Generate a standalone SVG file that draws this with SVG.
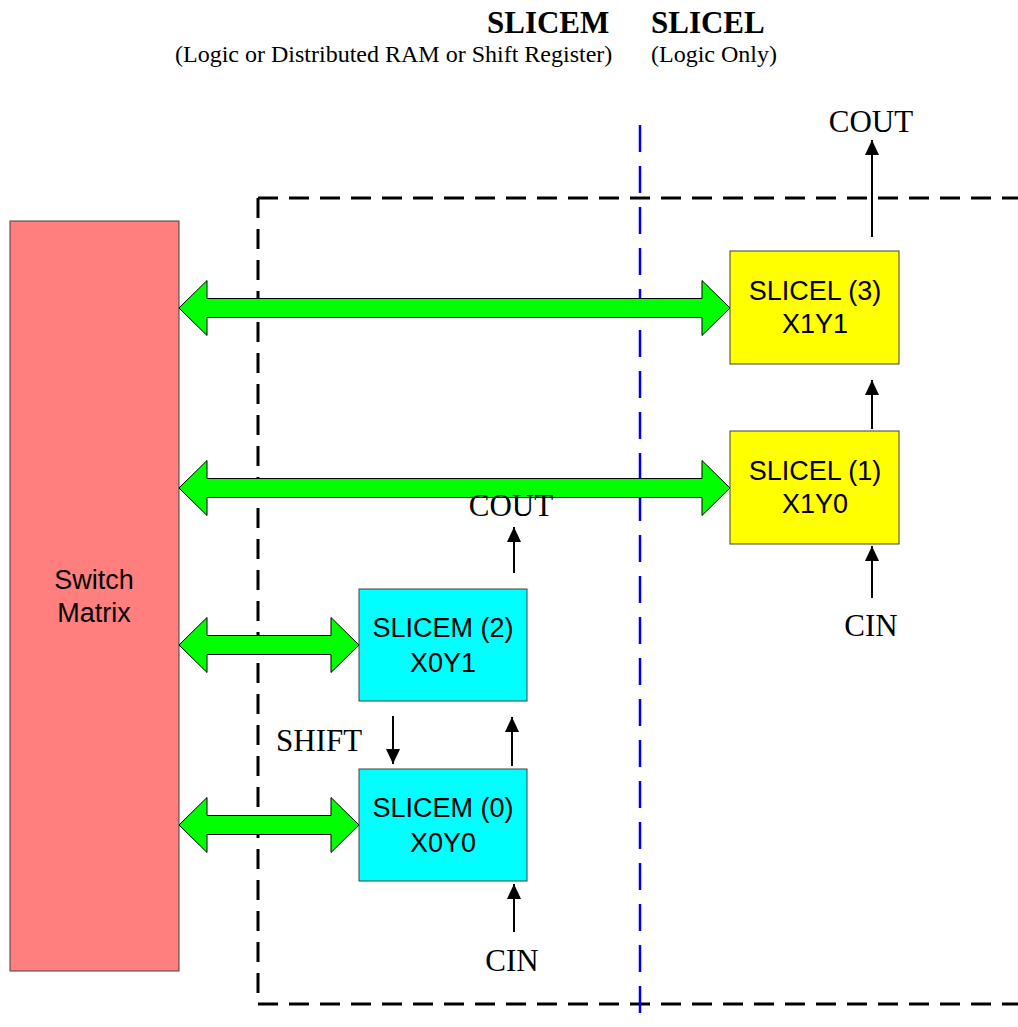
<svg xmlns="http://www.w3.org/2000/svg" width="1018" height="1027" viewBox="0 0 1018 1027">
<style>
.title{font-family:"Liberation Serif","Times New Roman",serif;font-weight:bold;font-size:31px;fill:#000}
.sub{font-family:"Liberation Serif","Times New Roman",serif;font-size:24px;fill:#000}
.lbl{font-family:"Liberation Serif","Times New Roman",serif;font-size:31px;fill:#000}
.box{font-family:"Liberation Sans",Arial,sans-serif;font-size:27px;fill:#000;text-anchor:middle}
.bus{fill:#00FF00;stroke:#000;stroke-width:1}
.wire{stroke:#000;stroke-width:2;fill:none;marker-end:url(#ah)}
.node{stroke:#404040;stroke-width:1}
</style>
<defs>
<marker id="ah" markerUnits="userSpaceOnUse" markerWidth="16" markerHeight="14" refX="15" refY="7" orient="auto">
<path d="M0,0 L15,7 L0,14 z" fill="#000"/>
</marker>
</defs>
<rect width="1018" height="1027" fill="#fff"/>
<g id="headers">
<text class="title" x="487" y="33">SLICEM</text>
<text class="title" x="651" y="33">SLICEL</text>
<text class="sub" x="175" y="62">(Logic or Distributed RAM or Shift Register)</text>
<text class="sub" x="651" y="62">(Logic Only)</text>
</g>
<g id="regions">
<path d="M258,198 H1018" stroke="#000" stroke-width="3" stroke-dasharray="20 11" fill="none"/>
<path d="M258,198 V1004 H1018" stroke="#000" stroke-width="3" stroke-dasharray="20 11" fill="none"/>
<path d="M640,125 V1027" stroke="#0000EE" stroke-width="2.5" stroke-dasharray="27 14" fill="none"/>
</g>
<g id="switch-matrix">
<rect class="node" x="10" y="221" width="169" height="750" fill="#FF7F7F"/>
<text class="box" x="94" y="589">Switch</text>
<text class="box" x="94" y="622">Matrix</text>
</g>
<g id="slicel3">
<rect class="node" x="730" y="251" width="169" height="113" fill="#FFFF00"/>
<text class="box" x="815" y="300">SLICEL (3)</text>
<text class="box" x="815" y="333">X1Y1</text>
</g>
<g id="slicel1">
<rect class="node" x="730" y="431" width="169" height="113" fill="#FFFF00"/>
<text class="box" x="815" y="480">SLICEL (1)</text>
<text class="box" x="815" y="513">X1Y0</text>
</g>
<g id="slicem2">
<rect class="node" x="359" y="589" width="168" height="112" fill="#00FFFF"/>
<text class="box" x="443" y="637">SLICEM (2)</text>
<text class="box" x="443" y="672">X0Y1</text>
</g>
<g id="slicem0">
<rect class="node" x="359" y="769" width="168" height="112" fill="#00FFFF"/>
<text class="box" x="443" y="817">SLICEM (0)</text>
<text class="box" x="443" y="852">X0Y0</text>
</g>
<g id="connectors">
<polygon class="bus" points="179,308 207,280.5 207,298.5 702,298.5 702,280.5 730,308 702,335.5 702,317.5 207,317.5 207,335.5"/>
<polygon class="bus" points="179,488 207,460.5 207,478.5 702,478.5 702,460.5 730,488 702,515.5 702,497.5 207,497.5 207,515.5"/>
<polygon class="bus" points="179,645 207,617.5 207,635.5 331,635.5 331,617.5 359,645 331,672.5 331,654.5 207,654.5 207,672.5"/>
<polygon class="bus" points="179,825 207,797.5 207,815.5 331,815.5 331,797.5 359,825 331,852.5 331,834.5 207,834.5 207,852.5"/>
<path class="wire" d="M872,237 V140"/>
<path class="wire" d="M872,429 V380"/>
<path class="wire" d="M872,598 V546"/>
<path class="wire" d="M514,573 V527"/>
<path class="wire" d="M512,766 V717"/>
<path class="wire" d="M393,716 V764"/>
<path class="wire" d="M514,932 V884"/>
</g>
<g id="labels">
<text class="lbl" x="871" y="132" text-anchor="middle">COUT</text>
<text class="lbl" x="871" y="636" text-anchor="middle">CIN</text>
<text class="lbl" x="511" y="516" text-anchor="middle">COUT</text>
<text class="lbl" x="276" y="751">SHIFT</text>
<text class="lbl" x="512" y="971" text-anchor="middle">CIN</text>
</g>
</svg>
